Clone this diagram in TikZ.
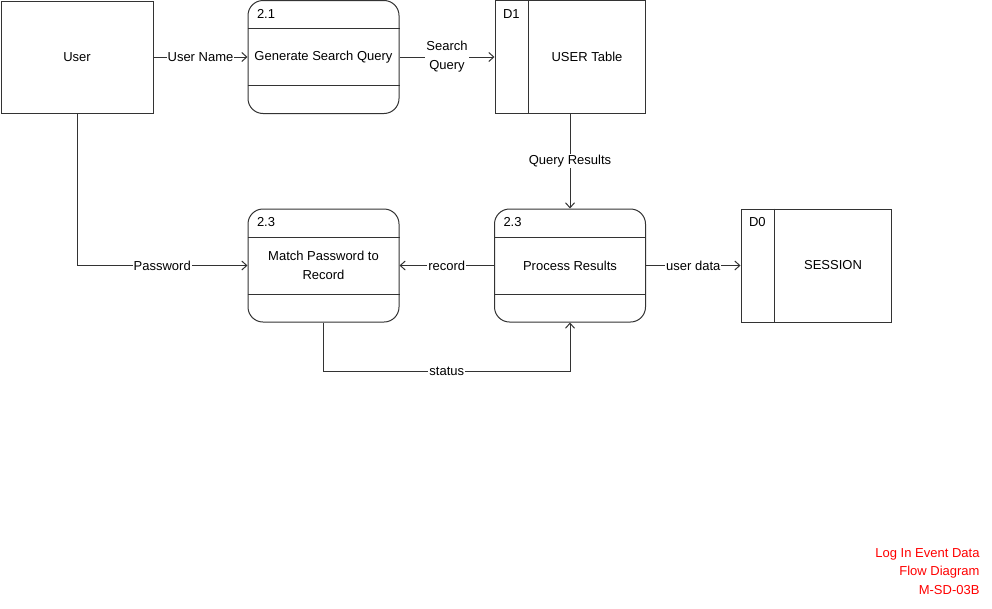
\documentclass[tikz,border=0pt]{standalone}
\usepackage{fontspec}
\setmainfont{Liberation Sans}
\usetikzlibrary{arrows.meta}
\begin{document}
\begin{tikzpicture}[x=1pt,y=-1pt,
  line width=1pt,
  every node/.style={font=\fontsize{13}{19}\selectfont, text=black},
  ent/.style={draw=black!80, minimum width=152pt, minimum height=112pt, inner sep=0pt},
  proc/.style={draw=black!80, rounded corners=15pt, minimum width=151pt, minimum height=113pt, inner sep=0pt},
  store/.style={draw=black!80, minimum width=150pt, minimum height=113pt, inner sep=0pt},
  divider/.style={draw=black!80},
  flow/.style={draw=black!80, -{Straight Barb[length=5pt,width=9pt]}},
  lbl/.style={fill=white, inner sep=1pt},
  tag/.style={anchor=west, inner sep=0pt},
  note/.style={text=red, anchor=east, inner sep=0pt, align=right, font=\fontsize{13}{18.5}\selectfont}]
\useasboundingbox (0,0) rectangle (992,608);

% external entity
\node[ent] (user) at (77,57) {User};

% processes
\node[proc] (p21) at (323.5,57) {Generate Search Query};
\node[proc, align=center] (p23a) at (323.5,265.5) {Match Password to\\Record};
\node[proc] (p23b) at (570,265.5) {Process Results};
\foreach \p/\id in {p21/2.1, p23a/2.3, p23b/2.3} {
  \draw[divider] ([yshift=-28.5pt]\p.north west) -- ([yshift=-28.5pt]\p.north east);
  \draw[divider] ([yshift=28.5pt]\p.south west) -- ([yshift=28.5pt]\p.south east);
  \node[tag] at ([xshift=9pt,yshift=-14pt]\p.north west) {\id};
}

% data stores
\node[store] (d1) at (570,57) {\hspace*{34pt}USER Table};
\node[store] (d0) at (816,265.5) {\hspace*{34pt}SESSION};
\foreach \s/\id in {d1/D1, d0/D0} {
  \draw[divider] ([xshift=34pt]\s.north west) -- ([xshift=34pt]\s.south west);
  \node[tag] at ([xshift=8pt,yshift=-14pt]\s.north west) {\id};
}

% data flows
\draw[flow] (user) -- node[lbl] {User Name} (p21);
\draw[flow] (p21) -- node[lbl, align=center] {Search\\Query} (d1);
\draw[flow] (d1) -- node[lbl] {Query Results} (p23b);
\draw[flow] (user.south) |- node[lbl, pos=0.75] {Password} (p23a.west);
\draw[flow] (p23b) -- node[lbl] {record} (p23a);
\draw[flow] (p23b) -- node[lbl] {user data} (d0);
\draw[flow] (p23a.south) -- ++(0,49) -| node[lbl, pos=0.25] {status} (p23b.south);

% title block
\node[note] (title) at (980,571.5) {Log In Event Data\\Flow Diagram\\M-SD-03B};
\end{tikzpicture}
\end{document}
